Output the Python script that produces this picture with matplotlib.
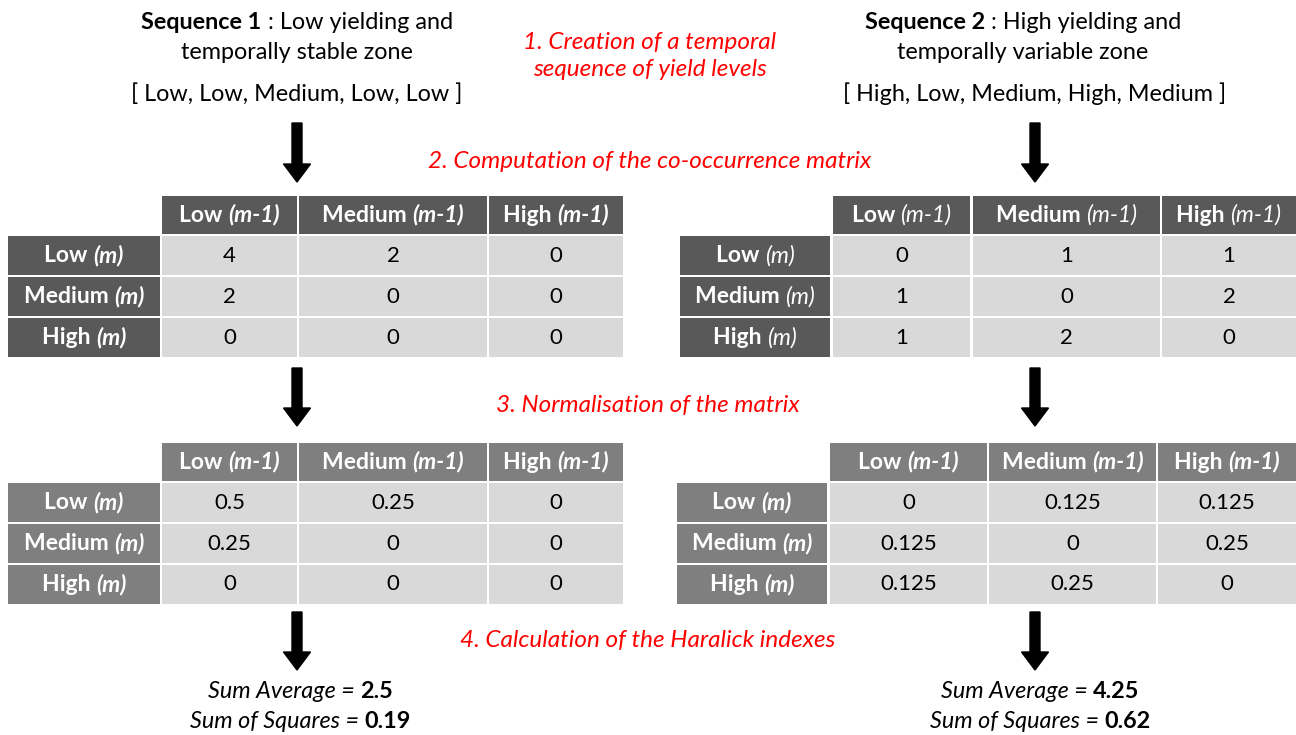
import matplotlib
matplotlib.use("Agg")
import matplotlib.pyplot as plt
from matplotlib.patches import Rectangle

plt.rcParams['font.family'] = ['Lato', 'DejaVu Sans']

# data
levels = ["Low", "Medium", "High"]
seq1 = ["Low", "Low", "Medium", "Low", "Low"]
seq2 = ["High", "Low", "Medium", "High", "Medium"]
counts1 = [[4, 2, 0], [2, 0, 0], [0, 0, 0]]
counts2 = [[0, 1, 1], [1, 0, 2], [1, 2, 0]]
norm1 = [[0.5, 0.25, 0], [0.25, 0, 0], [0, 0, 0]]
norm2 = [[0, 0.125, 0.125], [0.125, 0, 0.25], [0.125, 0.25, 0]]
sum_avg = [2.5, 4.25]
sum_sq = [0.19, 0.62]
steps = ["1. Creation of a temporal\nsequence of yield levels",
         "2. Computation of the co-occurrence matrix",
         "3. Normalisation of the matrix",
         "4. Calculation of the Haralick indexes"]

W, H = 1296, 735
fig = plt.figure(figsize=(W / 100, H / 100), dpi=100)
ax = fig.add_axes([0, 0, 1, 1])
ax.set_xlim(0, W)
ax.set_ylim(H, 0)
ax.axis("off")
renderer = fig.canvas.get_renderer()

LBL = 16.5   # table header / row label size
VAL = 16     # table values
TXT = 16.8   # black headings
RED = 17.5   # red step labels


def rich(x, y, parts, size, color="black"):
    # parts: (text, weight, style); centred on x
    objs = []
    for txt, wt, st in parts:
        t = ax.text(0, y, txt, fontsize=size, fontweight=wt, fontstyle=st,
                    color=color, ha="left", va="center")
        objs.append(t)
    widths = [t.get_window_extent(renderer).width for t in objs]
    cur = x - sum(widths) / 2
    for t, w in zip(objs, widths):
        t.set_x(cur)
        cur += w


def table(xs, ys, vals, hcol, head_bold_italic, row_bold_italic, fmt):
    # xs: column edges (label col first), ys: row edges (header first)
    for i in range(4):
        for j in range(4):
            if i == 0 and j == 0:
                continue
            x0, x1 = xs[j]
            y0, y1 = ys[i]
            fc = hcol if (i == 0 or j == 0) else "#d9d9d9"
            ax.add_patch(Rectangle((x0, y0), x1 - x0, y1 - y0, fc=fc, ec="none"))
            cx, cy = (x0 + x1) / 2, (y0 + y1) / 2
            if i == 0:
                rich(cx, cy, [(levels[j - 1] + " ", "bold", "normal"),
                              ("(m-1)", "bold" if head_bold_italic else "normal", "italic")],
                     LBL, "white")
            elif j == 0:
                rich(cx, cy, [(levels[i - 1] + " ", "bold", "normal"),
                              ("(m)", "bold" if row_bold_italic else "normal", "italic")],
                     LBL, "white")
            else:
                ax.text(cx, cy, fmt(vals[i - 1][j - 1]), fontsize=VAL,
                        ha="center", va="center", color="black")


g = lambda v: f"{v:g}"
left_x = [(8, 160), (162, 297), (299, 487), (489, 623)]
right_x_up = [(680, 830), (833, 970), (973, 1160), (1162, 1296)]
right_x_lo = [(677, 827), (830, 987), (989, 1156), (1158, 1296)]
ys_up = [(196, 234), (236, 275), (277, 316), (318, 357)]
ys_lo = [(443, 481), (483, 522), (524, 563), (565, 604)]

table(left_x, ys_up, counts1, "#595959", True, True, g)
table(right_x_up, ys_up, counts2, "#595959", False, False, g)
table(left_x, ys_lo, norm1, "#7f7f7f", True, True, g)
table(right_x_lo, ys_lo, norm2, "#7f7f7f", True, True, g)

# sequence headings
rich(297, 22, [("Sequence 1", "bold", "normal"), (" : Low yielding and", "normal", "normal")], TXT)
ax.text(297, 52, "temporally stable zone", fontsize=TXT, ha="center", va="center")
ax.text(297, 94, "[ " + ", ".join(seq1) + " ]", fontsize=TXT, ha="center", va="center")
rich(1023, 22, [("Sequence 2", "bold", "normal"), (" : High yielding and", "normal", "normal")], TXT)
ax.text(1023, 52, "temporally variable zone", fontsize=TXT, ha="center", va="center")
ax.text(1035, 94, "[ " + ", ".join(seq2) + " ]", fontsize=TXT, ha="center", va="center")

# red step labels
ax.text(650, 56, steps[0], fontsize=RED, color="red", style="italic",
        ha="center", va="center", linespacing=1.4)
ax.text(650, 161, steps[1], fontsize=RED, color="red", style="italic", ha="center", va="center")
ax.text(648, 405, steps[2], fontsize=RED, color="red", style="italic", ha="center", va="center")
ax.text(648, 641, steps[3], fontsize=RED, color="red", style="italic", ha="center", va="center")

# arrows
for ax_x in (297, 1035):
    for y0, y1 in ((123, 182), (368, 426), (612, 670)):
        ax.arrow(ax_x, y0, 0, y1 - y0, width=10, head_width=27, head_length=18,
                 length_includes_head=True, fc="black", ec="black")

# results
for cx, a, s in ((300, sum_avg[0], sum_sq[0]), (1040, sum_avg[1], sum_sq[1])):
    rich(cx, 691, [("Sum Average = ", "normal", "italic"), (g(a), "bold", "normal")], TXT)
    rich(cx, 721, [("Sum of Squares = ", "normal", "italic"), (f"{s:.2f}", "bold", "normal")], TXT)

fig.savefig("out.png", dpi=100)
